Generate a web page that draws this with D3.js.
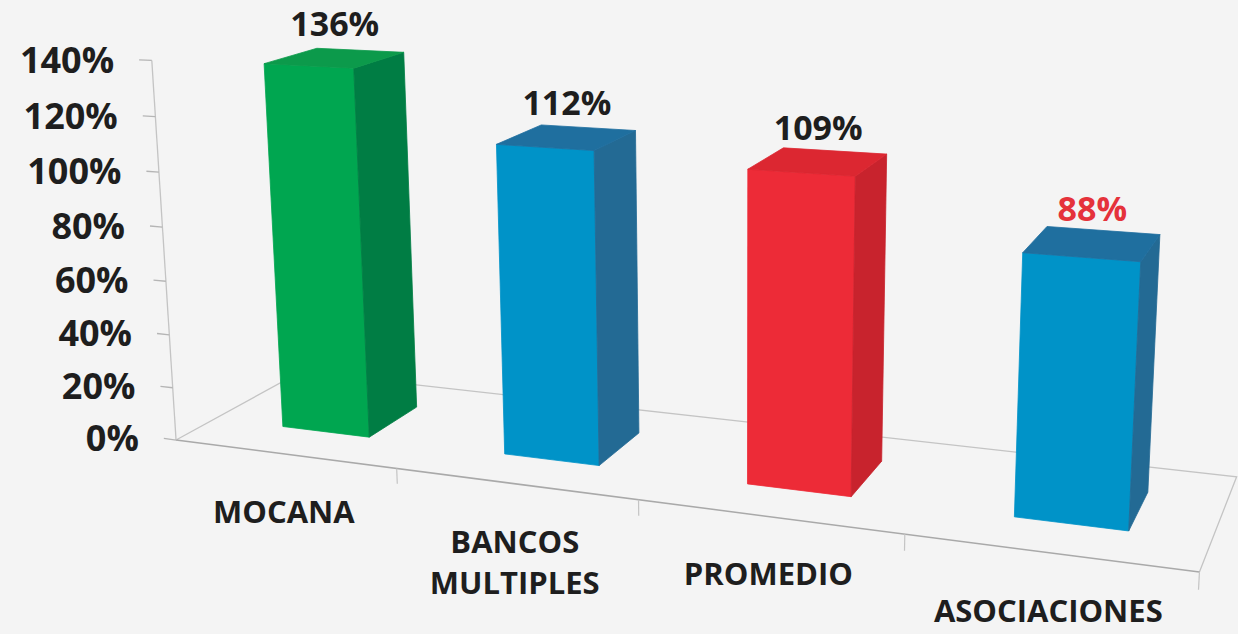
<!DOCTYPE html>
<html>
<head>
<meta charset="utf-8">
<script src="https://cdnjs.cloudflare.com/ajax/libs/d3/7.8.5/d3.min.js"></script>
<style>
  body { margin: 0; background: #f4f4f4; }
  svg { display: block; font-family: "Open Sans", sans-serif; font-weight: 700; }
</style>
</head>
<body>
<svg></svg>
<script>
// chart data
let categories = ["MOCANA", "BANCOS MULTIPLES", "PROMEDIO", "ASOCIACIONES"]
let values = [136, 112, 109, 88]
let valueLabels = ["136%", "112%", "109%", "88%"]
let barColors = ["green", "blue", "red", "blue"]
let labelColors = ["#1e1e1e", "#1e1e1e", "#1e1e1e", "#e5323b"]
let yTicks = [0, 20, 40, 60, 80, 100, 120, 140]

let width = 1238
let height = 634

// face colours for each bar colour: front, side, top
let shades = {
  green: ["#00a650", "#007d44", "#0c9a4b"],
  blue: ["#0093c8", "#236a94", "#1f6f9f"],
  red: ["#ed2b37", "#c8232d", "#dc2731"]
}

// size of the 3d box in world units: floor width (x), floor depth (z), height of the value axis
let floorW = 897
let floorD = 225
let axisH = 346

// camera used for the perspective look of the chart
let cam = { cx: 552, cy: 256, f: 2212, yaw: 23.76, pitch: 13.82, roll: 1.19, tx: -343.3, ty: 159.3, tz: 2000 }

let ya = cam.yaw * Math.PI / 180
let pa = cam.pitch * Math.PI / 180
let ra = cam.roll * Math.PI / 180

// world point (x right, y up, z back) -> screen point
let project = function(x, y, z) {
  let c = Math.cos(ya), s = Math.sin(ya)
  let cb = Math.cos(pa), sb = Math.sin(pa)
  let px = cam.tx + c * x + s * z
  let py = cam.ty + s * sb * x - cb * y - c * sb * z
  let pz = cam.tz - s * cb * x - sb * y + c * cb * z
  let xu = cam.f * px / pz
  let yu = cam.f * py / pz
  return [cam.cx + xu * Math.cos(ra) + yu * Math.sin(ra),
          cam.cy - xu * Math.sin(ra) + yu * Math.cos(ra)]
}

let svg = d3.select("svg")
svg.attr("width", width).attr("height", height)

svg.append("rect").attr("width", width).attr("height", height).attr("fill", "#f4f4f4")

// scales
let xScale = d3.scaleBand().domain(categories).range([0, floorW])
let yScale = d3.scaleLinear().domain([0, 140]).range([0, axisH])
let zScale = d3.scaleLinear().domain([0, 1]).range([0, floorD])

let line = d3.line()

// floor outline
let drawFloor = function() {
  let corners = [[0, 0], [floorW, 0], [floorW, floorD], [0, floorD]]
  let pts = corners.map((p) => project(p[0], 0, p[1]))
  svg.append("path")
     .attr("d", line([pts[1], pts[2], pts[3], pts[0]]))
     .attr("fill", "none")
     .attr("stroke", "#c4c4c4")
     .attr("stroke-width", 1.3)
  svg.append("path")
     .attr("d", line([pts[0], pts[1]]))
     .attr("stroke", "#a9a9a9")
     .attr("stroke-width", 1.5)

  // category ticks along the front edge
  let tickX = categories.map((c) => xScale(c)).slice(1).concat([floorW])
  tickX.forEach((x) => {
    svg.append("path")
       .attr("d", line([project(x, 0, 0), project(x, -14, 0)]))
       .attr("stroke", "#c4c4c4")
       .attr("stroke-width", 1.2)
  })
}

// value axis on the front-left corner
let drawAxis = function() {
  svg.append("path")
     .attr("d", line([project(0, 0, 0), project(0, yScale(140), 0)]))
     .attr("stroke", "#c4c4c4")
     .attr("stroke-width", 1.3)

  yTicks.forEach((t) => {
    let p0 = project(-13, yScale(t), 0)
    let p1 = project(0, yScale(t), 0)
    svg.append("path")
       .attr("d", line([p0, p1]))
       .attr("stroke", "#b5b5b5")
       .attr("stroke-width", 1.3)
    svg.append("text")
       .attr("x", p0[0] - 25)
       .attr("y", p0[1] + 13)
       .attr("text-anchor", "end")
       .attr("font-size", 36)
       .attr("fill", "#1e1e1e")
       .text(t + "%")
  })
}

// bars as boxes: front, right side and top faces
let drawBars = function() {
  let bw = xScale.bandwidth()
  let z0 = zScale(0.3)
  let z1 = zScale(0.72)

  categories.forEach((cat, i) => {
    let x0 = xScale(cat) + bw * 0.32
    let x1 = xScale(cat) + bw * 0.72
    let h = yScale(values[i])
    let col = shades[barColors[i]]

    let faces = [
      [[x0, 0, z0], [x1, 0, z0], [x1, h, z0], [x0, h, z0]],
      [[x1, 0, z0], [x1, 0, z1], [x1, h, z1], [x1, h, z0]],
      [[x0, h, z0], [x1, h, z0], [x1, h, z1], [x0, h, z1]]
    ]
    faces.forEach((f, k) => {
      svg.append("path")
         .attr("d", line(f.map((p) => project(p[0], p[1], p[2]))) + "Z")
         .attr("fill", col[k])
         .attr("stroke", col[k])
         .attr("stroke-width", 0.8)
    })

    // value label above the top face
    let top = project((x0 + x1) / 2, h, (z0 + z1) / 2)
    svg.append("text")
       .attr("x", top[0])
       .attr("y", top[1] - 22)
       .attr("text-anchor", "middle")
       .attr("font-size", 34)
       .attr("fill", labelColors[i])
       .text(valueLabels[i])
  })
}

// category names under the front edge
let drawCategoryLabels = function() {
  categories.forEach((cat) => {
    let p = project(xScale(cat) + xScale.bandwidth() / 2, 0, 0)
    let words = cat.split(" ")
    words.forEach((w, j) => {
      svg.append("text")
         .attr("x", p[0])
         .attr("y", p[1] + 69 + j * 41)
         .attr("text-anchor", "middle")
         .attr("font-size", 31)
         .attr("fill", "#1e1e1e")
         .text(w)
    })
  })
}

drawFloor()
drawAxis()
drawBars()
drawCategoryLabels()
</script>
</body>
</html>
